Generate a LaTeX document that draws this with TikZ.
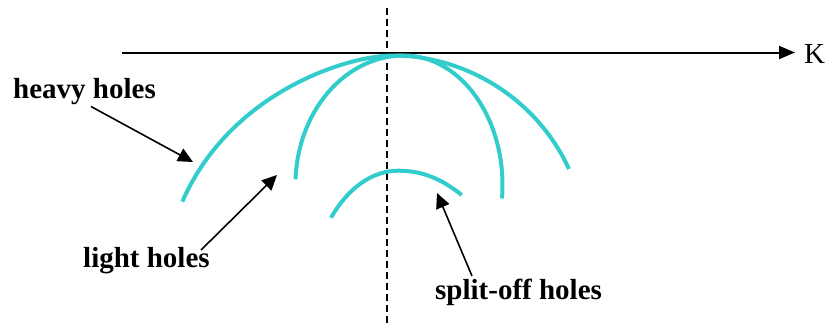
\documentclass[tikz,border=0pt]{standalone}
\usepackage{fontspec}
\setmainfont{Liberation Serif}
\usetikzlibrary{arrows.meta}
\definecolor{band}{RGB}{51,204,204}
\tikzset{
  bandline/.style={draw=band, line width=4pt, line cap=butt, line join=round},
  lbl/.style={anchor=base west, inner sep=0pt, font=\fontsize{29}{31}\selectfont\bfseries},
  ptr/.style={draw=black, line width=1.6pt, -{Triangle[length=15pt,width=14pt]}},
  axis/.style={draw=black, line width=2pt, -{Triangle[length=16pt,width=13pt]}},
  sym/.style={draw=black, line width=2pt, dash pattern=on 7pt off 4pt}
}
\begin{document}
\begin{tikzpicture}[x=1pt,y=-1pt]
\useasboundingbox (0,0) rectangle (825,324);
% symmetry line and axis
\coordinate (symtop) at (387,8);
\coordinate (symbot) at (387,324);
\draw[sym] (symtop) -- (symbot);
\coordinate (axstart) at (122,52.5);
\coordinate (axend) at (795,52.5);
\draw[axis] (axstart) -- (axend);
\node[anchor=base west, inner sep=0pt, font=\fontsize{29}{31}\selectfont] (K) at (804,63) {K};
% heavy holes band
\draw[bandline] (182.3,201.7) .. controls (230.3,91.7) and (348,55.5) .. (393,55.5)
  .. controls (463,55.5) and (535.4,96.2) .. (569,169);
% light holes band
\draw[bandline] plot[domain=182.5:270, samples=60] ({404+108.6*cos(\x)},{185+129.5*sin(\x)})
  -- plot[domain=270:366, samples=60] ({404+98.5*cos(\x)},{185+129.5*sin(\x)});
% split-off band
\draw[bandline] (331,217.7) .. controls (349,186.5) and (373.3,170.7) .. (398.3,170.7)
  .. controls (423.3,170.7) and (442.2,179.5) .. (461.7,195);
% labels
\node[lbl] (hh) at (13,98) {heavy holes};
\node[lbl] (lh) at (83,267) {light holes};
\node[lbl] (so) at (435,299) {split-off holes};
% pointers
\coordinate (hhtail) at (91,106.5);
\coordinate (hhtip) at (193,162);
\coordinate (lhtail) at (201,250);
\coordinate (lhtip) at (277,175);
\coordinate (sotail) at (472,276);
\coordinate (sotip) at (437,193);
\draw[ptr] (hhtail) -- (hhtip);
\draw[ptr] (lhtail) -- (lhtip);
\draw[ptr] (sotail) -- (sotip);
\end{tikzpicture}
\end{document}
